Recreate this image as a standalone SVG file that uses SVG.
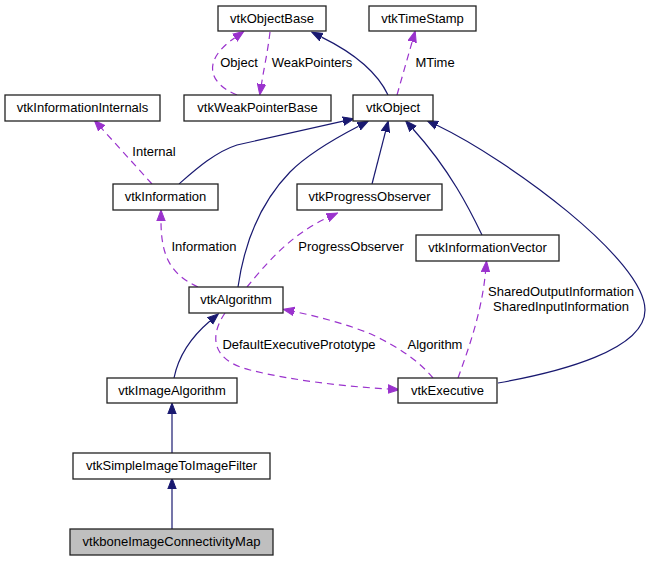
<svg xmlns="http://www.w3.org/2000/svg" width="651" height="561" viewBox="0 0 651 561">
<style>
.n rect{fill:#fff;stroke:#222;stroke-width:1.3}
.n text,.lbl{font-family:"Liberation Sans",Arial,sans-serif;font-size:13px;fill:#000;text-anchor:middle}
.inh{fill:none;stroke:#191970;stroke-width:1.2}
.use{fill:none;stroke:#9a32cd;stroke-width:1.2;stroke-dasharray:7,5}
</style>
<defs>
<marker id="an" markerUnits="userSpaceOnUse" markerWidth="12" markerHeight="10" refX="0" refY="5" orient="auto" viewBox="0 0 12 10"><path d="M0,0.8 L11,5 L0,9.2 z" fill="#191970" stroke="#191970"/></marker>
<marker id="ap" markerUnits="userSpaceOnUse" markerWidth="12" markerHeight="10" refX="0" refY="5" orient="auto" viewBox="0 0 12 10"><path d="M0,0.8 L11,5 L0,9.2 z" fill="#9a32cd" stroke="#9a32cd"/></marker>
</defs>
<g id="edges">
<path class="inh" marker-end="url(#an)" d="M388,95 C380,78 362,57 321.6,37.1"/>
<path class="use" marker-end="url(#ap)" d="M237,95 C210,84 200,62 234.8,37.7"/>
<path class="use" marker-end="url(#ap)" d="M270,32 C268,50 264,68 261.5,84"/>
<path class="use" marker-end="url(#ap)" d="M397,95 L412.2,41.6"/>
<path class="inh" marker-end="url(#an)" d="M179,184 C195,170 215,152 237,145 L343.2,121.2"/>
<path class="use" marker-end="url(#ap)" d="M152,184 L101.7,128.4"/>
<path class="inh" marker-end="url(#an)" d="M238,287 C244,245 258,205 290,172 C308,154 334,139 358.5,126.3"/>
<path class="inh" marker-end="url(#an)" d="M372,184 L385.5,131.7"/>
<path class="inh" marker-end="url(#an)" d="M482,235 C470,210 450,170 413,129"/>
<path class="inh" marker-end="url(#an)" d="M498,383 C560,372 645,350 645,310 C645,260 509,160 437,125.3"/>
<path class="use" marker-end="url(#ap)" d="M198,287 C172,275 161,258 161,221"/>
<path class="use" marker-end="url(#ap)" d="M247,287 C265,265 290,235 327.5,217.6"/>
<path class="use" marker-end="url(#ap)" d="M433,378 C420,362 400,348 373,335 C350,325 320,317 294,311.5"/>
<path class="use" marker-end="url(#ap)" d="M225,313 C210,335 210,360 250,370 C290,380 340,386 388,389"/>
<path class="use" marker-end="url(#ap)" d="M458,378 C470,345 482,310 485.5,272"/>
<path class="inh" marker-end="url(#an)" d="M174,378 C178,358 190,338 210,321"/>
<path class="inh" marker-end="url(#an)" d="M172,453 L172,414"/>
<path class="inh" marker-end="url(#an)" d="M172,529 L172,489"/>
<text class="lbl" x="239" y="67">Object</text>
<text class="lbl" x="312" y="67">WeakPointers</text>
<text class="lbl" x="435" y="67">MTime</text>
<text class="lbl" x="154" y="156">Internal</text>
<text class="lbl" x="204" y="251">Information</text>
<text class="lbl" x="351" y="251">ProgressObserver</text>
<text class="lbl" x="299" y="349">DefaultExecutivePrototype</text>
<text class="lbl" x="435" y="349">Algorithm</text>
<text class="lbl" x="561" y="296">SharedOutputInformation</text>
<text class="lbl" x="561" y="311">SharedInputInformation</text>
</g>
<g id="vtkObjectBase" class="n"><rect x="218" y="6" width="108" height="25"/><text x="272" y="23">vtkObjectBase</text></g>
<g id="vtkTimeStamp" class="n"><rect x="369" y="6" width="107" height="25"/><text x="422.5" y="23">vtkTimeStamp</text></g>
<g id="vtkInformationInternals" class="n"><rect x="5" y="95" width="155" height="26"/><text x="82.5" y="112">vtkInformationInternals</text></g>
<g id="vtkWeakPointerBase" class="n"><rect x="184" y="95" width="147" height="26"/><text x="257.5" y="112">vtkWeakPointerBase</text></g>
<g id="vtkObject" class="n"><rect x="353" y="95" width="80" height="26"/><text x="393" y="112">vtkObject</text></g>
<g id="vtkInformation" class="n"><rect x="113" y="184" width="105" height="26"/><text x="165.5" y="201">vtkInformation</text></g>
<g id="vtkProgressObserver" class="n"><rect x="297" y="184" width="145" height="26"/><text x="369.5" y="201">vtkProgressObserver</text></g>
<g id="vtkInformationVector" class="n"><rect x="416" y="235" width="143" height="26"/><text x="487.5" y="252">vtkInformationVector</text></g>
<g id="vtkAlgorithm" class="n"><rect x="189" y="287" width="94" height="26"/><text x="236" y="304">vtkAlgorithm</text></g>
<g id="vtkImageAlgorithm" class="n"><rect x="107" y="378" width="130" height="25"/><text x="172" y="395">vtkImageAlgorithm</text></g>
<g id="vtkExecutive" class="n"><rect x="398" y="378" width="99" height="25"/><text x="447.5" y="395">vtkExecutive</text></g>
<g id="vtkSimpleImageToImageFilter" class="n"><rect x="73" y="453" width="197" height="26"/><text x="171.5" y="470">vtkSimpleImageToImageFilter</text></g>
<g id="vtkboneImageConnectivityMap" class="n"><rect x="70" y="529" width="203" height="26" style="fill:#bfbfbf"/><text x="171.5" y="546">vtkboneImageConnectivityMap</text></g>
</svg>
